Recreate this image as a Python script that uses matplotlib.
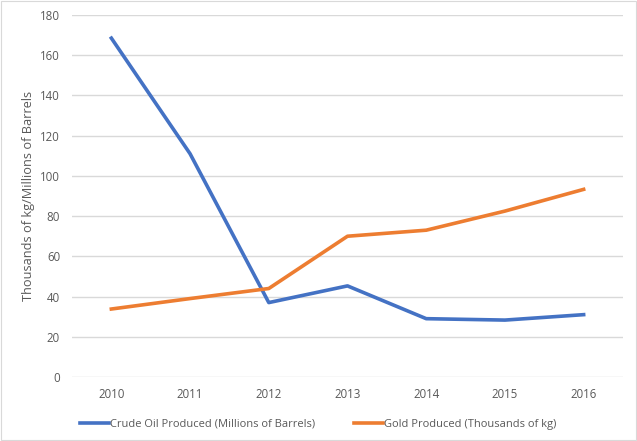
import matplotlib.pyplot as plt
from matplotlib.lines import Line2D

years = ['2010', '2011', '2012', '2013', '2014', '2015', '2016']
crude_oil = [168.5, 111, 37, 45.3, 29, 28.3, 31]
gold = [33.8, 39, 44, 70, 73, 82.5, 93.3]

plt.rcParams['font.family'] = ['Open Sans', 'DejaVu Sans']

fig = plt.figure(figsize=(6.37, 4.41), dpi=100)
ax = fig.add_axes([72 / 637, 1 - 377 / 441, (623 - 72) / 637, (377 - 15) / 441])

x = range(len(years))
ax.plot(x, crude_oil, color='#4472C4', linewidth=2.6, solid_joinstyle='round')
ax.plot(x, gold, color='#ED7D31', linewidth=2.6, solid_joinstyle='round')

ax.set_xlim(-0.5, len(years) - 0.5)
ax.set_ylim(0, 180)
ax.set_yticks(range(0, 181, 20))
ax.set_xticks(list(x))
ax.set_xticklabels(years)
ax.grid(axis='y', color='#D9D9D9', linewidth=1)
ax.set_axisbelow(True)
for s in ax.spines.values():
    s.set_visible(False)
ax.tick_params(length=0, labelsize=8.3, colors='#595959', pad=8)
ax.tick_params(axis='y', pad=8.6)
ax.set_ylabel('Thousands of kg/Millions of Barrels', fontsize=9.2, color='#595959')
ax.yaxis.set_label_coords(-0.067, 0.5)

handles = [Line2D([], [], color='#4472C4', linewidth=2.6),
           Line2D([], [], color='#ED7D31', linewidth=2.6)]
labels = ['Crude Oil Produced (Millions of Barrels)', 'Gold Produced (Thousands of kg)']
leg = fig.legend(handles, labels, loc='center', bbox_to_anchor=(0.5, 1 - 424 / 441),
                 ncol=2, frameon=False, fontsize=8, handlelength=2.6, handletextpad=0.1,
                 columnspacing=3.5)
for t in leg.get_texts():
    t.set_color('#595959')

# light outer border of the chart area
fig.patches.append(plt.Rectangle((0.002, 0.002), 0.996, 0.996, transform=fig.transFigure,
                                 fill=False, edgecolor='#D9D9D9', linewidth=0.8))

fig.savefig('out.png', dpi=100)
